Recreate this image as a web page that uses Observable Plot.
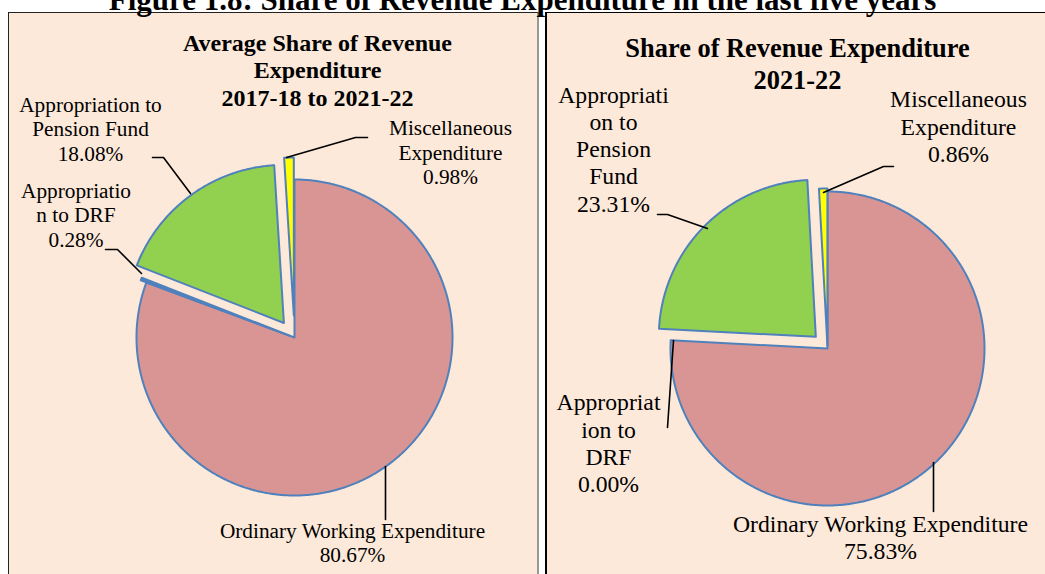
<!DOCTYPE html>
<html><head><meta charset="utf-8">
<script src="https://cdn.jsdelivr.net/npm/d3@7"></script>
<script src="https://cdn.jsdelivr.net/npm/@observablehq/plot@0.6"></script>
<style>
body{margin:0;width:1045px;height:574px;overflow:hidden;position:relative;background:#fff;font-family:"Liberation Serif","Times New Roman",serif;}
#title{position:absolute;left:0;top:-16px;width:1045px;text-align:center;font-weight:bold;font-size:31px;line-height:31px;white-space:nowrap;z-index:5;}
.panel{position:absolute;background:#FDE9D9;box-sizing:border-box;}
#pl{left:8px;top:12px;width:531px;height:570px;border-left:1.5px solid #222;border-top:1.5px solid #222;border-right:2px solid #999;}
#pr{left:545px;top:12px;width:502px;height:570px;border-left:2.5px solid #000;border-top:1.5px solid #000;}
.chart{position:absolute;top:0;z-index:3;}
</style></head>
<body>
<div class="panel" id="pl"></div><div class="panel" id="pr"></div>
<div id="title">Figure 1.8: Share of Revenue Expenditure in the last five years</div>
<div class="chart" id="cl" style="left:0"></div><div class="chart" id="cr" style="left:545px"></div>
<script>
// ---- data ----
const categories = ["Ordinary Working Expenditure", "Appropriation to DRF", "Appropriation to Pension Fund", "Miscellaneous Expenditure"];
const avgShare = [80.67, 0.28, 18.08, 0.98];       // 2017-18 to 2021-22
const share2122 = [75.83, 0.00, 23.31, 0.86];      // 2021-22
const sliceColors = ["#D99594", "#4F81BD", "#92D050", "#FFFF00"];
const leftTitle = "Average Share of Revenue\nExpenditure\n2017-18 to 2021-22";
const rightTitle = "Share of Revenue Expenditure\n2021-22";
const leftNames = ["Ordinary Working Expenditure", "Appropriatio\nn to DRF", "Appropriation to\nPension Fund", "Miscellaneous\nExpenditure"];
const rightNames = ["Ordinary Working Expenditure", "Appropriat\nion to\nDRF", "Appropriati\non to\nPension\nFund", "Miscellaneous\nExpenditure"];

// ---- layout (page pixels) ----
const leftLayout = {
  left: 0, width: 540, cx: 294, cy: 337, r: 158,
  explode: [0, 6, 18, 22],
  fontSize: 21.3, titleSize: 24, titlePos: [317, 69], titleLH: 1.15,
  labelPos: [[352, 541.5], [75.5, 214], [90, 128], [450, 151.5]],
  leaders: [
    [[385, 466], [385, 519]],
    [[105, 249], [117, 249], [141, 273]],
    [[152, 157], [163, 157], [190, 193]],
    [[286, 157], [355, 137], [367, 137]]
  ]
};
const rightLayout = {
  left: 545, width: 500, cx: 827, cy: 348, r: 157,
  explode: [0, 0, 16.5, 3],
  fontSize: 23.7, titleSize: 26.4, titlePos: [797, 62], titleLH: 1.21,
  labelPos: [[880, 536.5], [608, 442], [613, 148], [958, 125.5]],
  leaders: [
    [[933, 462], [933, 511]],
    [[667, 427], [673, 340]],
    [[657, 214], [667, 214], [707, 228]],
    [[823, 192], [883, 166], [893, 166]]
  ]
};

function drawPie(values, names, title, L) {
  const total = d3.sum(values);
  const toU = ([px, py]) => ({x: (px - L.cx) / L.r, y: (py - L.cy) / L.r});
  const marks = [];
  let acc = 0;
  values.forEach((v, i) => {
    const a0 = acc / total * 2 * Math.PI; acc += v; const a1 = acc / total * 2 * Math.PI;
    if (v <= 0) return;
    const m = (a0 + a1) / 2, e = L.explode[i] / L.r;
    const ox = e * Math.sin(m), oy = -e * Math.cos(m);
    const pts = [{x: ox, y: oy}];
    const n = Math.max(2, Math.ceil((a1 - a0) / (Math.PI / 360)));
    for (let k = 0; k <= n; k++) { const a = a0 + (a1 - a0) * k / n; pts.push({x: ox + Math.sin(a), y: oy - Math.cos(a)}); }
    marks.push(Plot.line(pts, {x: "x", y: "y", curve: "linear-closed", fill: sliceColors[i], stroke: "#4F81BD", strokeWidth: 2, strokeLinejoin: "round"}));
  });
  L.leaders.forEach(seg => {
    marks.push(Plot.line(seg.map(toU), {x: "x", y: "y", stroke: "#000", strokeWidth: 1.6}));
  });
  values.forEach((v, i) => {
    const p = toU(L.labelPos[i]);
    marks.push(Plot.text([{...p, t: names[i] + "\n" + v.toFixed(2) + "%"}], {x: "x", y: "y", text: "t", fontSize: L.fontSize, lineHeight: 1.15, fontFamily: "Liberation Serif", fill: "#000"}));
  });
  const tp = toU(L.titlePos);
  marks.push(Plot.text([{...tp, t: title}], {x: "x", y: "y", text: "t", fontSize: L.titleSize, lineHeight: L.titleLH, fontWeight: "bold", fontFamily: "Liberation Serif", fill: "#000"}));
  return Plot.plot({
    width: L.width, height: 574, margin: 0,
    x: {axis: null, domain: [(L.left - L.cx) / L.r, (L.left + L.width - L.cx) / L.r], range: [0, L.width]},
    y: {axis: null, domain: [(0 - L.cy) / L.r, (574 - L.cy) / L.r], range: [0, 574]},
    style: {background: "transparent", overflow: "visible"},
    marks
  });
}
document.getElementById("cl").appendChild(drawPie(avgShare, leftNames, leftTitle, leftLayout));
document.getElementById("cr").appendChild(drawPie(share2122, rightNames, rightTitle, rightLayout));
</script>
</body></html>
